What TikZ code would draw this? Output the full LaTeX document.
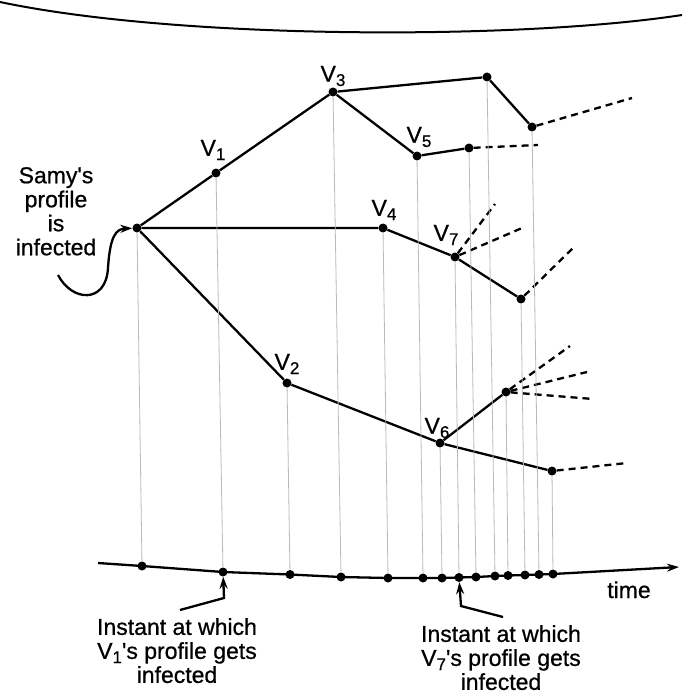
\documentclass[tikz,border=0pt]{standalone}
\usepackage{fontspec}
\setmainfont{Liberation Sans}
\newfontfamily\heavy{Liberation Sans}[FakeBold=0.7]
\usetikzlibrary{arrows.meta}
\newcommand\vsub[1]{\raisebox{-0.35ex}{\fontsize{17}{17}\selectfont #1}}
\begin{document}
\begin{tikzpicture}[x=1pt,y=-1pt,
 dot/.style={circle,fill=black,inner sep=0pt,minimum size=9pt},
 edge/.style={line width=2.3pt},
 dashedge/.style={line width=2.3pt,dash pattern=on 7pt off 5pt},
 drop/.style={line width=0.8pt,gray!55},
 lbl/.style={font=\heavy\fontsize{23}{23}\selectfont,inner sep=0pt},
 txt/.style={font=\heavy\fontsize{23}{24}\selectfont,align=center,inner sep=0pt},
 tip/.style={-{Stealth[length=12pt,width=8pt]}}
]
\useasboundingbox (0,0) rectangle (691,695);
% top curve
\coordinate (topL) at (0,2);
\coordinate (topR) at (682,15);
\draw[line width=2pt] (topL) .. controls (180,40) and (520,40) .. (topR);

% graph nodes
\node[dot] (S) at (137,228) {};
\node[dot] (V1) at (216,173) {};
\node[dot] (V3) at (333,92) {};
\node[dot] (A) at (487,77) {};
\node[dot] (B) at (532,127) {};
\node[dot] (V5) at (417,156) {};
\node[dot] (C) at (469,148) {};
\node[dot] (V4) at (383,228) {};
\node[dot] (V7) at (455,257) {};
\node[dot] (D) at (521,299) {};
\node[dot] (V2) at (287,383) {};
\node[dot] (V6) at (440,443) {};
\node[dot] (E) at (506,392) {};
\node[dot] (F) at (552,471) {};

% labels
\node[lbl] (lV1) at (213,150) {V\vsub{1}};
\node[lbl] (lV3) at (333,76) {V\vsub{3}};
\node[lbl] (lV5) at (419,137) {V\vsub{5}};
\node[lbl] (lV4) at (384,210) {V\vsub{4}};
\node[lbl] (lV7) at (446,235) {V\vsub{7}};
\node[lbl] (lV2) at (287,364) {V\vsub{2}};
\node[lbl] (lV6) at (437,428) {V\vsub{6}};

% edges
\draw[edge] (S) -- (V1) -- (V3) -- (A) -- (B);
\draw[edge] (V3) -- (V5) -- (C);
\draw[edge] (S) -- (V4) -- (V7) -- (D);
\draw[edge] (S) -- (V2) -- (V6) -- (F);
\draw[edge] (V6) -- (E);

% dashed continuations
\coordinate (dB) at (632,98);
\coordinate (dC) at (538,145);
\coordinate (dV7a) at (495,204);
\coordinate (dV7b) at (522,228);
\coordinate (dD) at (575,246);
\coordinate (dEa) at (570,346);
\coordinate (dEb) at (587,372);
\coordinate (dEc) at (593,399);
\coordinate (dF) at (627,463);
\draw[dashedge] (B) -- (dB);
\draw[dashedge] (C) -- (dC);
\draw[dashedge] (V7) -- (dV7a);
\draw[dashedge] (V7) -- (dV7b);
\draw[dashedge] (D) -- (dD);
\draw[dashedge] (E) -- (dEa);
\draw[dashedge] (E) -- (dEb);
\draw[dashedge] (E) -- (dEc);
\draw[dashedge] (F) -- (dF);

% time axis dots
\node[dot] (t1) at (142,566) {};
\node[dot] (t2) at (223,572) {};
\node[dot] (t3) at (290,574.5) {};
\node[dot] (t4) at (341,577) {};
\node[dot] (t5) at (388,578) {};
\node[dot] (t6) at (423,578) {};
\node[dot] (t7) at (442,578) {};
\node[dot] (t8) at (459,577.5) {};
\node[dot] (t9) at (476,577) {};
\node[dot] (t10) at (495,576) {};
\node[dot] (t11) at (508,575.5) {};
\node[dot] (t12) at (525,575) {};
\node[dot] (t13) at (539,574.5) {};
\node[dot] (t14) at (553,574) {};
\coordinate (ax0) at (98,563);
\coordinate (axE) at (679,567);
\draw[edge,tip] (ax0) -- (t1.center) -- (t2.center) -- (t3.center) -- (t4.center) -- (t5.center) -- (t6.center) -- (t7.center) -- (t8.center) -- (t9.center) -- (t10.center) -- (t11.center) -- (t12.center) -- (t13.center) -- (t14.center) -- (axE);

% projection lines
\draw[drop] (S) -- (t1);
\draw[drop] (V1) -- (t2);
\draw[drop] (V2) -- (t3);
\draw[drop] (V3) -- (t4);
\draw[drop] (V4) -- (t5);
\draw[drop] (V5) -- (t6);
\draw[drop] (V6) -- (t7);
\draw[drop] (V7) -- (t8);
\draw[drop] (C) -- (t9);
\draw[drop] (A) -- (t10);
\draw[drop] (E) -- (t11);
\draw[drop] (D) -- (t12);
\draw[drop] (B) -- (t13);
\draw[drop] (F) -- (t14);

% texts
\node[txt,anchor=north] (samy) at (56,167) {Samy's\\profile\\is\\infected};
\coordinate (curlS) at (58,275);
\draw[edge,tip] (curlS) .. controls (72,302) and (106,304) .. (108,268) .. controls (110,236) and (116,229) .. (S);

\node[txt,anchor=base] (time) at (629,598) {time};

\node[txt,anchor=north] (inst1) at (177,618) {Instant at which\\V\vsub{1}'s profile gets\\infected};
\coordinate (a1s) at (180,610);
\coordinate (a1m) at (224,598);
\draw[edge,tip] (a1s) -- (a1m) -- (t2);

\node[txt,anchor=north] (inst7) at (501,625) {Instant at which\\V\vsub{7}'s profile gets\\infected};
\coordinate (a7s) at (503,617);
\coordinate (a7m) at (461,606);
\draw[edge,tip] (a7s) -- (a7m) -- (t8);
\end{tikzpicture}
\end{document}
